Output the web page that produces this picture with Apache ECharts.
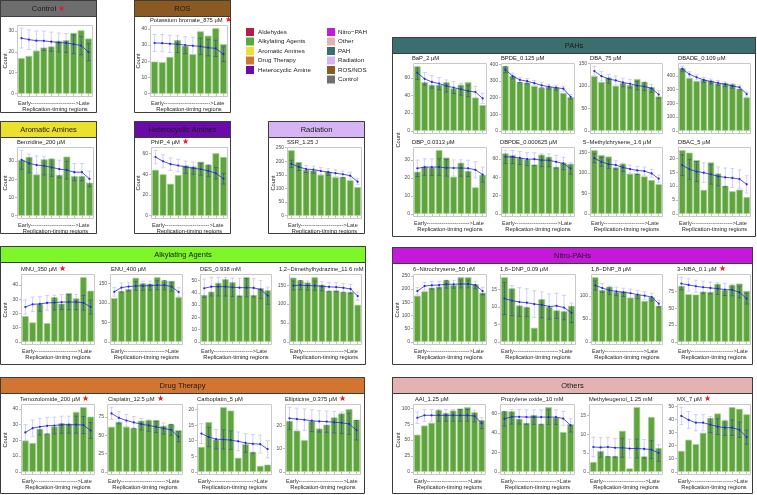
<!DOCTYPE html>
<html><head><meta charset="utf-8">
<script src="https://cdn.jsdelivr.net/npm/echarts@6/dist/echarts.min.js"></script>
<style>html,body{margin:0;padding:0;background:#fff}#c{width:757px;height:495px}</style>
</head><body><div id="c"></div><script>
const FONT = '"Liberation Sans", Arial, Helvetica, sans-serif';
const regions = ['1','2','3','4','5','6','7','8','9','10'];

// ---------- data ----------
const control_bars = [17, 18, 20.5, 22, 22.5, 25.2, 25.5, 29, 30.2, 26.3];
const control_mean = [26.5, 25.8, 25.3, 25.2, 24.8, 24.4, 24.2, 23.6, 23.0, 19.8];
const control_err  = [4.7, 4.7, 4.6, 4.6, 4.6, 4.5, 4.5, 4.5, 4.4, 4.1];
const control_ticks = [0, 10, 20, 30];

const ros_bars = [19.8, 19.4, 22.7, 33.1, 29.6, 24.4, 38.5, 35.8, 40.4, 30.6];
const ros_mean = [31.3, 31.2, 30.8, 30.6, 30.0, 29.6, 29.2, 28.4, 28.0, 24.4];
const ros_err  = [5.3, 5.3, 5.3, 5.2, 5.2, 5.2, 5.1, 5.0, 5.0, 4.5];
const ros_ticks = [0, 10, 20, 30, 40];

const benz_bars = [30.6, 32.2, 22.6, 30.9, 31.3, 22.4, 32.4, 21.7, 21.7, 18.1];
const benz_mean = [30.7, 28.7, 27.8, 27.4, 26.5, 25.6, 25.0, 23.9, 23.9, 20.2];
const benz_err  = [5.2, 5.1, 5.0, 5.0, 4.9, 4.8, 4.8, 4.7, 4.7, 4.3];
const benz_ticks = [0, 10, 20, 30];

const phip_bars = [44.3, 40, 30.8, 39.3, 48.5, 47.5, 52.1, 49.2, 60.3, 56.7];
const phip_mean = [56.7, 52.5, 49.8, 48.5, 46.9, 45.9, 44.9, 43.3, 41.0, 35.7];
const phip_err  = [6.5, 6.3, 6.1, 6.0, 5.9, 5.8, 5.8, 5.6, 5.5, 5.1];
const phip_ticks = [0, 20, 40, 60];

const ssr_bars = [240, 196, 169, 166, 150, 162, 141, 142, 130, 105];
const ssr_mean = [190, 179, 171, 169, 164, 160, 156, 152, 147, 125];
const ssr_err  = [13.5, 13, 12.8, 12.7, 12.5, 12.4, 12.3, 12.2, 12, 11];
const ssr_ticks = [0, 50, 100, 150, 200, 250];

const bap_bars = [73, 55, 52, 52, 55, 48, 52, 55, 37.5, 29];
const bap_mean = [65.6, 58.8, 55.3, 53.4, 50.8, 48.9, 47, 45, 43.9, 36.6];
const bap_err  = [7.5, 7.2, 7, 6.9, 6.8, 6.7, 6.6, 6.4, 6.3, 5.8];
const bap_ticks = [0, 20, 40, 60];

const bpde_bars = [388, 331, 294, 290, 269, 259, 265, 261, 227, 202];
const bpde_mean = [367, 329, 306, 298, 286, 273, 265, 259, 253, 204];
const bpde_err  = [18, 17, 16.5, 16, 16, 15.5, 15.5, 15, 15, 13.5];
const bpde_ticks = [0, 100, 200, 300, 400];

const dba_bars = [122, 109, 119, 100.5, 107, 102, 115.5, 109, 97.5, 76.5];
const dba_mean = [133.5, 122, 116, 112.5, 108, 105, 101, 99, 95, 81];
const dba_err  = [10.8, 10.3, 10, 9.8, 9.7, 9.5, 9.3, 9.3, 9, 8.4];
const dba_ticks = [0, 50, 100, 150];

const dbade_bars = [458, 385, 363, 373, 366, 346, 349, 341, 305, 244];
const dbade_mean = [451, 412, 390, 371, 359, 349, 339, 327, 317, 268];
const dbade_err  = [20, 19, 18.5, 18, 18, 17.5, 17, 17, 16.5, 15];
const dbade_ticks = [0, 100, 200, 300, 400];

const dbp_bars = [23.4, 26.2, 25.8, 35.4, 31.3, 20.6, 28.4, 23.8, 14.7, 21.7];
const dbp_mean = [25.3, 26, 26, 26, 25.6, 25.5, 25.5, 25.3, 24.5, 21.8];
const dbp_err  = [4.6, 4.6, 4.6, 4.6, 4.6, 4.5, 4.5, 4.5, 4.5, 4.2];
const dbp_ticks = [0, 10, 20, 30];

const dbpde_bars = [66, 64, 61, 59.3, 53.8, 64.5, 62.3, 51.3, 55.7, 54.6];
const dbpde_mean = [62.3, 62, 61, 59.7, 59.7, 58.6, 58.5, 56.8, 55, 49.5];
const dbpde_err  = [7.2, 7.2, 7.1, 7.1, 7, 7, 7, 6.9, 6.8, 6.3];
const dbpde_ticks = [0, 20, 40, 60];

const mc_bars = [155, 143, 139.5, 113, 122, 97.6, 98.4, 91, 82, 72];
const mc_mean = [135.5, 126.6, 121, 119, 113, 109, 105.6, 104, 98.4, 85.5];
const mc_err  = [11, 10.8, 10.5, 10.4, 10.2, 10, 10, 9.9, 9.5, 8.8];
const mc_ticks = [0, 50, 100, 150];

const dbac_bars = [22.9, 22, 19.3, 8.6, 18.5, 14.5, 10.1, 8.1, 8.7, 6];
const dbac_mean = [17.5, 16, 15.2, 14.8, 14.2, 13.5, 13.1, 12.9, 12.5, 10.6];
const dbac_err  = [3.7, 3.6, 3.6, 3.5, 3.5, 3.4, 3.4, 3.4, 3.3, 3.1];
const dbac_ticks = [0, 5, 10, 15, 20];

const mnu_bars = [18.1, 13.6, 26.7, 13.1, 31.4, 26.9, 34.3, 30.5, 45.5, 36];
const mnu_mean = [24.5, 26.4, 26.7, 27.4, 27.6, 28, 28, 28, 27.5, 24.5];
const mnu_err  = [5, 5.1, 5.1, 5.2, 5.2, 5.3, 5.3, 5.3, 5.2, 4.9];
const mnu_ticks = [0, 10, 20, 30, 40];

const enu_bars = [112, 130, 135, 164, 150, 149, 165.5, 157, 156, 114.5];
const enu_mean = [128, 139, 141.5, 143, 143.5, 144, 145, 145, 141.5, 127.5];
const enu_err  = [11, 11.5, 11.5, 11.5, 11.5, 11.5, 11.5, 11.5, 11.5, 11];
const enu_ticks = [0, 50, 100, 150];

const des_bars = [38.2, 40.9, 48.1, 51.1, 48.6, 37.9, 52.7, 38.2, 43.7, 42];
const des_mean = [43.7, 45, 45, 45, 44.5, 44.2, 44.2, 44, 42.6, 37.6];
const des_err  = [7.5, 7.6, 7.6, 7.6, 7.5, 7.5, 7.5, 7.5, 7.4, 7];
const des_ticks = [0, 10, 20, 30, 40, 50];

const dmh_bars = [170, 162.5, 157, 171, 151, 135, 136, 132, 132, 98];
const dmh_mean = [149, 150, 149, 148.5, 147, 145.5, 144.6, 143, 140, 121];
const dmh_err  = [12, 12, 12, 12, 12, 12, 12, 12, 11.8, 11];
const dmh_ticks = [0, 50, 100, 150];

const nc_bars = [174.5, 191, 205, 209, 233, 215, 244.6, 244.6, 218, 186];
const nc_mean = [192, 211, 214, 215, 218, 218, 219, 219, 215, 192];
const nc_err  = [14, 14.5, 14.5, 14.6, 14.7, 14.7, 14.8, 14.8, 14.6, 14];
const nc_ticks = [0, 50, 100, 150, 200, 250];

const dnp16_bars = [18.5, 15.3, 10.4, 10, 4, 12.2, 10, 9, 8.75, 10.3];
const dnp16_mean = [12.4, 11.8, 11.4, 11.2, 10.8, 10.6, 10.1, 10.3, 9.8, 8.3];
const dnp16_err  = [4.6, 4.3, 4.1, 4.0, 3.8, 3.7, 3.6, 3.6, 3.5, 2.8];
const dnp16_ticks = [0, 5, 10, 15];

const dnp18_bars = [141, 113, 120.4, 109, 110, 96.4, 103, 89, 97.8, 78.8];
const dnp18_mean = [123, 117.5, 112.4, 110, 108, 106, 103, 100.7, 97.8, 83.2];
const dnp18_err  = [10, 9.5, 9.3, 9.2, 9, 9, 8.8, 8.7, 8.5, 7.5];
const dnp18_ticks = [0, 50, 100];

const nba_bars = [83.5, 71, 70.5, 75, 74.5, 86.5, 77.5, 85, 87, 76];
const nba_mean = [87, 85, 83, 81.5, 80.5, 79.5, 78, 77.5, 74, 64.5];
const nba_err  = [9.5, 9.2, 9, 9, 8.9, 8.8, 8.8, 8.7, 8.5, 8];
const nba_ticks = [0, 25, 50, 75];

const tmz_bars = [19.8, 18.3, 27.3, 24.3, 28.8, 30.8, 30.5, 38, 41, 35];
const tmz_mean = [25, 27.7, 28.6, 29.2, 29.4, 29.9, 29.9, 29.9, 29.7, 26.2];
const tmz_err  = [5, 5.2, 5.3, 5.3, 5.3, 5.4, 5.4, 5.4, 5.4, 5];
const tmz_ticks = [0, 10, 20, 30, 40];

const cis_bars = [61.6, 68.5, 61.6, 59.8, 69.9, 70.8, 70.8, 63, 65.3, 57];
const cis_mean = [80, 74, 70.3, 67.6, 65.3, 63.5, 61.6, 59.4, 57.5, 48];
const cis_err  = [8.5, 8.3, 8.2, 8, 8, 7.8, 7.7, 7.6, 7.5, 6.8];
const cis_ticks = [0, 25, 50, 75];

const carb_bars = [8, 16, 10.4, 20.8, 19.7, 4.5, 8.9, 6.4, 1.9, 2.3];
const carb_mean = [12.3, 11.2, 10.5, 10.4, 10.2, 9.8, 9.3, 9, 8.9, 7.3];
const carb_err  = [3.2, 3.1, 3.1, 3.1, 3.0, 3.0, 3.0, 3.0, 2.9, 2.8];
const carb_ticks = [0, 5, 10, 15, 20];

const ell_bars = [21.9, 17.7, 13.6, 21.9, 18.6, 20.3, 23.4, 25.1, 27, 22.4];
const ell_mean = [23, 22.7, 22.4, 22, 21.7, 21.6, 21.3, 21.1, 20.6, 17.9];
const ell_err  = [4.8, 4.7, 4.7, 4.7, 4.6, 4.6, 4.6, 4.6, 4.5, 4.2];
const ell_ticks = [0, 10, 20];

const aai_bars = [58.3, 72.7, 77, 97.3, 92.5, 96.3, 99.5, 101.6, 93.6, 81.3];
const aai_mean = [85, 88.8, 88.8, 88.8, 88.8, 88.8, 88.8, 88.8, 87.7, 76.5];
const aai_err  = [9, 9.2, 9.2, 9.2, 9.2, 9.2, 9.2, 9.2, 9.1, 8.5];
const aai_ticks = [0, 25, 50, 75, 100];

const po_bars = [62.5, 62.5, 54.7, 50.5, 58.6, 49.5, 66.7, 56.1, 41, 49.1];
const po_mean = [54.7, 56.8, 56.8, 56.5, 56.5, 56.5, 56.5, 56.5, 55, 48];
const po_err  = [7.4, 7.5, 7.5, 7.5, 7.5, 7.5, 7.5, 7.5, 7.4, 6.9];
const po_ticks = [0, 20, 40, 60];

const meth_bars = [2.6, 5.5, 4.2, 4.2, 10.9, 0.9, 17.2, 4.1, 14.6, 6.3];
const meth_mean = [6.6, 6.5, 6.6, 6.4, 6.4, 6.2, 6.2, 6.1, 5.9, 5.0];
const meth_err  = [2.6, 2.6, 2.6, 2.5, 2.5, 2.5, 2.5, 2.5, 2.4, 2.2];
const meth_ticks = [0, 5, 10, 15];

const mx_bars = [15.9, 24.4, 21, 29.7, 41, 44.4, 39.2, 49.2, 48, 43.8];
const mx_mean = [42.6, 39.5, 37.4, 37.4, 35.9, 34.4, 33.6, 33.6, 32, 26.4];
const mx_err  = [6.6, 6.4, 6.2, 6.2, 6.1, 6, 5.9, 5.9, 5.8, 5.3];
const mx_ticks = [0, 10, 20, 30, 40, 50];

const legendLeft = ['Aldehydes', 'Alkylating Agents', 'Aromatic Amines', 'Drug Therapy', 'Heterocyclic Amine'];
const legendLeftColors = ['#b51c48', '#5aa83e', '#ebe130', '#d27532', '#6a0aa8'];
const legendRight = ['Nitro\u2212PAH', 'Other', 'PAH', 'Radiation', 'ROS/NOS', 'Control'];
const legendRightColors = ['#c419d8', '#e5b2b2', '#3b6e6e', '#d5b5f5', '#8a5a22', '#707070'];

// ---------- layout ----------
const boxes = [
  {name:'Control', star:true, color:'#6e6e6e', x:0, y:0, w:97, h:113},
  {name:'ROS', color:'#8b5a22', x:134, y:0, w:97, h:113},
  {name:'Aromatic Amines', color:'#ece02e', x:0, y:121, w:97, h:113},
  {name:'Heterocyclic Amines', color:'#6a0aa8', x:134, y:121, w:97, h:113},
  {name:'Radiation', color:'#d5b5f5', x:268, y:121, w:97, h:113},
  {name:'PAHs', color:'#3b6e6e', x:392, y:37, w:364, h:200},
  {name:'Alkylating Agents', color:'#7df72a', x:0, y:246, w:366, h:119},
  {name:'Nitro-PAHs', color:'#c419d8', x:392, y:247, w:361, h:118},
  {name:'Drug Therapy', color:'#d27532', x:0, y:377, w:365, h:117},
  {name:'Others', color:'#e5b2b2', x:392, y:377, w:361, h:117}
];

const P = (title, star, bars, mean, err, ticks, f, tx, xlab) => ({title, star, bars, mean, err, ticks, f, tx, xlab});
const panels = [
  P(null, false, control_bars, control_mean, control_err, control_ticks, [17,25,93,97], 17, true),
  P('Potassium bromate_875 \u03bcM', true, ros_bars, ros_mean, ros_err, ros_ticks, [150,25,228,97], 150, true),
  P('Benzidine_200 \u03bcM', false, benz_bars, benz_mean, benz_err, benz_ticks, [17,147,94,219], 17, true),
  P('PhIP_4 \u03bcM', true, phip_bars, phip_mean, phip_err, phip_ticks, [151,147,228,219], 151, true),
  P('SSR_1.25 J', false, ssr_bars, ssr_mean, ssr_err, ssr_ticks, [287,147,362,219], 287, true),

  P('BaP_2 \u03bcM', false, bap_bars, bap_mean, bap_err, bap_ticks, [413,63,487,134], 412, false),
  P('BPDE_0.125 \u03bcM', false, bpde_bars, bpde_mean, bpde_err, bpde_ticks, [501,63,575,134], 501, false),
  P('DBA_75 \u03bcM', false, dba_bars, dba_mean, dba_err, dba_ticks, [590,63,663,134], 590, false),
  P('DBADE_0.109 \u03bcM', false, dbade_bars, dbade_mean, dbade_err, dbade_ticks, [678,63,751,134], 678, false),
  P('DBP_0.0313 \u03bcM', false, dbp_bars, dbp_mean, dbp_err, dbp_ticks, [413,147,487,217], 412, true),
  P('DBPDE_0.000625 \u03bcM', false, dbpde_bars, dbpde_mean, dbpde_err, dbpde_ticks, [501,147,575,217], 500, true),
  P('5\u2212Methylchrysene_1.6 \u03bcM', false, mc_bars, mc_mean, mc_err, mc_ticks, [590,147,663,217], 583, true),
  P('DBAC_5 \u03bcM', false, dbac_bars, dbac_mean, dbac_err, dbac_ticks, [678,147,751,217], 678, true),

  P('MNU_350 \u03bcM', true, mnu_bars, mnu_mean, mnu_err, mnu_ticks, [21,274,95,345], 21, true),
  P('ENU_400 \u03bcM', false, enu_bars, enu_mean, enu_err, enu_ticks, [110,274,183,345], 111, true),
  P('DES_0.938 mM', false, des_bars, des_mean, des_err, des_ticks, [200,274,272,345], 200, true),
  P('1,2\u2212Dimethylhydrazine_11.6 mM', false, dmh_bars, dmh_mean, dmh_err, dmh_ticks, [289,274,362,345], 279, true),

  P('6\u2212Nitrochrysene_50 \u03bcM', false, nc_bars, nc_mean, nc_err, nc_ticks, [413,274,487,345], 413, true),
  P('1,6\u2212DNP_0.09 \u03bcM', false, dnp16_bars, dnp16_mean, dnp16_err, dnp16_ticks, [500,274,576,345], 500, true),
  P('1,8\u2212DNP_8 \u03bcM', false, dnp18_bars, dnp18_mean, dnp18_err, dnp18_ticks, [591,274,663,345], 591, true),
  P('3\u2212NBA_0.1 \u03bcM', true, nba_bars, nba_mean, nba_err, nba_ticks, [677,274,751,345], 677, true),

  P('Temozolomide_200 \u03bcM', true, tmz_bars, tmz_mean, tmz_err, tmz_ticks, [21,404,95,475], 20, true),
  P('Cisplatin_12.5 \u03bcM', true, cis_bars, cis_mean, cis_err, cis_ticks, [107,404,183,475], 108, true),
  P('Carboplatin_5 \u03bcM', false, carb_bars, carb_mean, carb_err, carb_ticks, [197,404,272,475], 197, true),
  P('Ellipticine_0.375 \u03bcM', true, ell_bars, ell_mean, ell_err, ell_ticks, [285,404,361,475], 285, true),

  P('AAI_1.25 \u03bcM', false, aai_bars, aai_mean, aai_err, aai_ticks, [413,404,486,475], 415, true),
  P('Propylene oxide_10 mM', false, po_bars, po_mean, po_err, po_ticks, [500,404,575,475], 501, true),
  P('Methyleugenol_1.25 mM', false, meth_bars, meth_mean, meth_err, meth_ticks, [589,404,663,475], 589, true),
  P('MX_7 \u03bcM', true, mx_bars, mx_mean, mx_err, mx_ticks, [677,404,751,475], 677, true)
];

const countLabels = [[5,61],[138,61],[5,183],[138,183],[273,183],[398,140],[5,310],[397,310],[5,440],[398,440]];

// ---------- helpers ----------
const mctx = document.createElement('canvas').getContext('2d');
function tw(s, size) { mctx.font = size + 'px ' + FONT; return mctx.measureText(s).width; }
function txt(x, y, text, o) {
  o = o || {};
  const al = o.align || 'left', va = o.va || 'middle';
  return {type:'text', x:x, y:y, rotation:o.rot || 0, silent:true, z:o.z || 20,
    style:{text:text, fill:o.color || '#1a1a1a', fontSize:o.size || 5.8, fontFamily:FONT,
      fontWeight:o.weight || 'normal',
      align:al, verticalAlign:va, textAlign:al, textVerticalAlign:va}};
}
const STAR = '#e41a1c';
const graphics = [];

boxes.forEach(b => {
  graphics.push({type:'rect', z:-10, silent:true, shape:{x:b.x+0.5, y:b.y+0.5, width:b.w-1, height:b.h-1},
    style:{fill:'#ffffff', stroke:'#3c3c3c', lineWidth:1}});
  graphics.push({type:'rect', z:-9, silent:true, shape:{x:b.x+0.5, y:b.y+0.5, width:b.w-1, height:16},
    style:{fill:b.color, stroke:'#3c3c3c', lineWidth:1}});
  const cx = b.x + b.w/2, cy = b.y + 8.8;
  if (b.star) {
    const w1 = tw(b.name, 7.5), w2 = tw(' \u2605', 7.5);
    const sx = cx - (w1 + w2)/2;
    graphics.push(txt(sx, cy, b.name, {size:7.5}));
    graphics.push(txt(sx + w1 + 2, cy, '\u2605', {size:7.5, color:STAR}));
  } else {
    graphics.push(txt(cx, cy, b.name, {size:7.5, align:'center'}));
  }
});

// legend
legendLeft.forEach((n, i) => {
  const y = 32 + i*9.5;
  graphics.push({type:'rect', z:3, silent:true, shape:{x:246, y:y-4, width:8, height:8}, style:{fill:legendLeftColors[i]}});
  graphics.push(txt(258, y, n, {size:6.2}));
});
legendRight.forEach((n, i) => {
  const y = 32 + i*9.5;
  graphics.push({type:'rect', z:3, silent:true, shape:{x:327, y:y-4, width:8, height:8}, style:{fill:legendRightColors[i]}});
  graphics.push(txt(338, y, n, {size:6.2}));
});

countLabels.forEach(c => graphics.push(txt(c[0], c[1], 'Count', {size:5.7, align:'center', rot:Math.PI/2})));

const grids = [], xAxes = [], yAxes = [], series = [];
const BLUE = '#2626e6', DARK = '#4a5790', LIGHT = '#c4c4fa';

function renderErr(params, api) {
  const k = api.value(0), m = api.value(1), e = api.value(2), b = api.value(3);
  const lo = m - e, hi = m + e;
  const x = api.coord([k, m])[0];
  const cw = api.size([1, 0])[0] * 0.27;
  const Y = v => api.coord([k, v])[1];
  const ch = [];
  const seg = (a, c, col) => ch.push({type:'line', shape:{x1:x, y1:Y(a), x2:x, y2:Y(c)}, style:{stroke:col, lineWidth:0.8}});
  if (hi <= b) seg(lo, hi, DARK);
  else if (lo >= b) seg(lo, hi, LIGHT);
  else { seg(lo, b, DARK); seg(b, hi, LIGHT); }
  [lo, hi].forEach(v => ch.push({type:'line', shape:{x1:x-cw, y1:Y(v), x2:x+cw, y2:Y(v)}, style:{stroke: v <= b ? DARK : LIGHT, lineWidth:0.8}}));
  return {type:'group', children:ch};
}

panels.forEach((p, i) => {
  const [x0, y0, x1, y1] = p.f;
  const w = x1 - x0, h = y1 - y0;
  const inset = w * 0.1 / 10.2;
  let M = 0;
  p.bars.forEach((v, k) => { M = Math.max(M, v, p.mean[k] + p.err[k]); });
  grids.push({left:x0 + inset, top:y0, width:w - 2*inset, height:h, show:false});
  xAxes.push({type:'category', gridIndex:i, data:regions, boundaryGap:true, z:30,
    axisLine:{show:false}, axisLabel:{show:false}, splitLine:{show:false},
    axisTick:{show:true, alignWithLabel:true, interval:0, length:2, lineStyle:{color:'#8c8c8c', width:0.6}}});
  yAxes.push({type:'value', gridIndex:i, min:-0.05*M, max:1.05*M, offset:inset, z:30,
    axisLine:{show:false}, splitLine:{show:false},
    axisTick:{show:true, length:2, customValues:p.ticks, lineStyle:{color:'#8c8c8c', width:0.6}},
    axisLabel:{customValues:p.ticks, fontSize:5, color:'#4d4d4d', margin:3, fontFamily:FONT}});
  series.push({type:'bar', xAxisIndex:i, yAxisIndex:i, data:p.bars, barCategoryGap:'10%', silent:true,
    itemStyle:{color:'#5fa43f', borderColor:'#a3d08a', borderWidth:0.7}, z:2, animation:false});
  series.push({type:'custom', xAxisIndex:i, yAxisIndex:i, renderItem:renderErr, silent:true, z:3, animation:false,
    data:p.mean.map((m, k) => [k, m, p.err[k], p.bars[k]])});
  series.push({type:'line', xAxisIndex:i, yAxisIndex:i, data:p.mean, silent:true, z:4, animation:false,
    symbol:'circle', symbolSize:2.2, showSymbol:true,
    lineStyle:{color:BLUE, width:0.8}, itemStyle:{color:BLUE}});

  // frame
  graphics.push({type:'rect', z:5, silent:true, shape:{x:x0+0.5, y:y0+0.5, width:w-1, height:h-1},
    style:{fill:null, stroke:'#c8c8c8', lineWidth:1}});
  if (p.title) {
    graphics.push(txt(p.tx, y0 - 5, p.title, {size:5.8}));
    if (p.star) graphics.push(txt(p.tx + tw(p.title, 5.8) + 2, y0 - 5, '\u2605', {size:7.5, color:STAR}));
  }
  if (p.xlab) {
    let n = 10, s;
    const target = w - 6;
    while (true) { s = 'Early' + '-'.repeat(n) + '>Late'; if (tw(s, 5.6) >= target || n > 60) break; n++; }
    graphics.push(txt(x0 + 1, y1 + 6, s, {size:5.6, color:'#333333'}));
    graphics.push(txt((x0 + x1)/2, y1 + 12.5, 'Replication-timing regions', {size:5.7, align:'center'}));
  }
});

const chart = echarts.init(document.getElementById('c'), null, {renderer:'canvas'});
chart.setOption({
  animation:false,
  textStyle:{fontFamily:FONT},
  grid:grids, xAxis:xAxes, yAxis:yAxes, series:series, graphic:graphics
});
</script></body></html>
